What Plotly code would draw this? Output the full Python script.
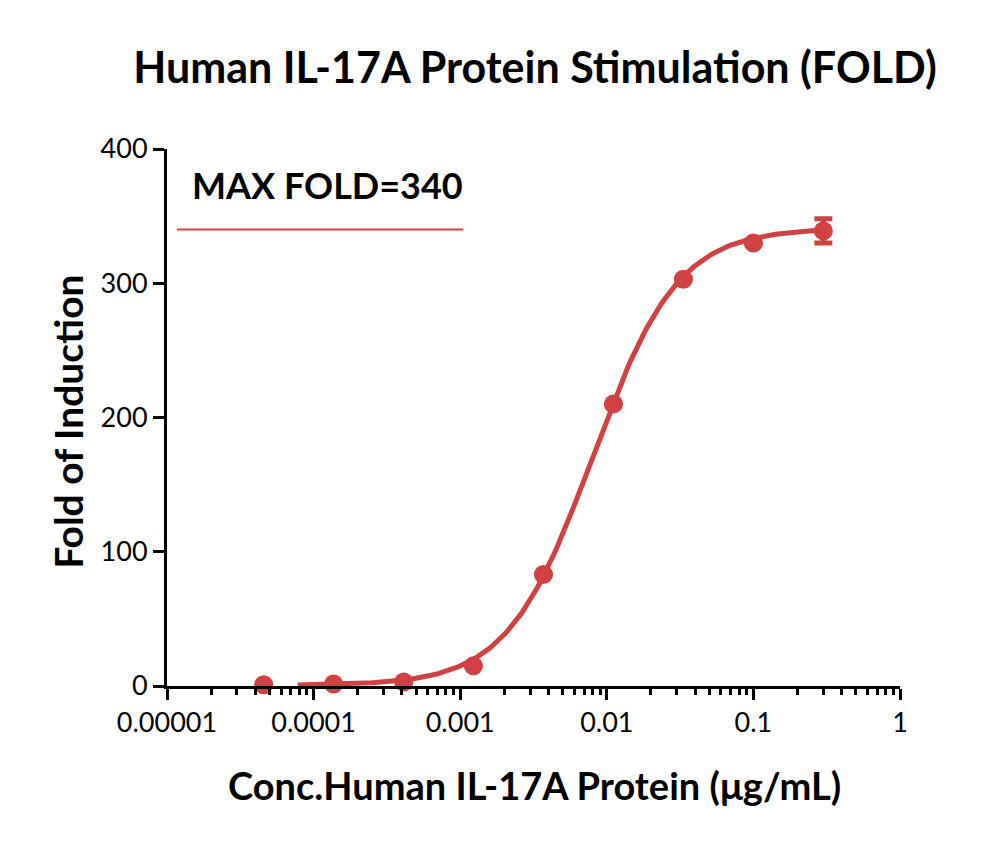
import numpy as np
import plotly.graph_objects as go

# Data
conc = [0.0000457, 0.000137, 0.000412, 0.00123, 0.0037, 0.0111, 0.0333, 0.1, 0.3]
fold = [1.0, 1.5, 3.0, 15.0, 83.0, 210.0, 303.0, 330.0, 339.0]
err = [0, 0, 0, 0, 0, 0, 0, 0, 9.0]

# 4PL fit parameters (bottom, top, EC50, hill) and curve span
fit_bottom, fit_top, fit_ec50, fit_hill = 0.5, 341.0, 0.008, 1.5
curve_start, curve_end = 7.8e-5, 0.3

max_fold = 340
max_line_x = [1.17e-5, 1.05e-3]

x_tickvals = [1e-5, 1e-4, 1e-3, 1e-2, 1e-1, 1]
x_ticktext = ["0.00001", "0.0001", "0.001", "0.01", "0.1", "1"]
y_tickvals = [0, 100, 200, 300, 400]

red = "#d24141"
font = "Lato"

cx = np.logspace(np.log10(curve_start), np.log10(curve_end), 300)
cy = fit_bottom + (fit_top - fit_bottom) / (1 + (fit_ec50 / cx) ** fit_hill)

minor_vals = [m * 10.0 ** e for e in range(-5, 0) for m in range(2, 10)]

fig = go.Figure()
fig.add_trace(go.Scatter(x=cx, y=cy, mode="lines", line=dict(color=red, width=5),
                         hoverinfo="skip", cliponaxis=False))
fig.add_trace(go.Scatter(x=conc, y=fold, mode="markers",
                         marker=dict(color=red, size=19),
                         error_y=dict(type="data", array=err, visible=True,
                                      color=red, thickness=5, width=9),
                         cliponaxis=False))
fig.add_trace(go.Scatter(x=max_line_x, y=[max_fold, max_fold], mode="lines",
                         line=dict(color="#e8383a", width=2), hoverinfo="skip"))

fig.add_annotation(x=np.log10(1.44e-5), y=373, xref="x", yref="y", text="<b>MAX FOLD=340</b>",
                   showarrow=False, xanchor="left", yanchor="middle",
                   font=dict(family=font, size=36, color="black"))

# axis titles as annotations for precise placement
fig.add_annotation(x=0.502, y=0, xref="paper", yref="paper", yshift=-99,
                   text="<b>Conc.Human IL-17A Protein (μg/mL)</b>", showarrow=False,
                   xanchor="center", yanchor="middle",
                   font=dict(family=font, size=38, color="black"))
fig.add_annotation(x=0, y=0.492, xref="paper", yref="paper", xshift=-99, textangle=-90,
                   text="<b>Fold of Induction</b>", showarrow=False,
                   xanchor="center", yanchor="middle",
                   font=dict(family=font, size=39, color="black"))

fig.update_layout(
    width=1000, height=842,
    paper_bgcolor="white", plot_bgcolor="white",
    showlegend=False,
    margin=dict(l=159, r=108, t=141, b=164),
    title=dict(text="<b>Human IL-17A Protein Stimulation (FOLD)</b>", x=0.527, xanchor="center",
               y=0.9287, yanchor="middle", font=dict(family=font, size=43, color="black")),
    font=dict(family=font, color="black"),
)
fig.update_xaxes(type="log", range=[-5, 0], showgrid=False, zeroline=False,
                 showline=True, linecolor="black", linewidth=3,
                 ticks="outside", ticklen=11, tickwidth=3, tickcolor="black",
                 tickmode="array", tickvals=x_tickvals, ticktext=x_ticktext,
                 tickfont=dict(family=font, size=27, color="black"),
                 minor=dict(tickmode="array", tickvals=minor_vals, ticks="outside",
                            ticklen=6, tickwidth=3, tickcolor="black", showgrid=False))
fig.update_yaxes(range=[0, 400], showgrid=False, zeroline=False,
                 showline=True, linecolor="black", linewidth=3,
                 ticks="outside", ticklen=11, tickwidth=3, tickcolor="black",
                 tickmode="array", tickvals=y_tickvals,
                 tickfont=dict(family=font, size=27, color="black"))

fig.write_html("out.html")
